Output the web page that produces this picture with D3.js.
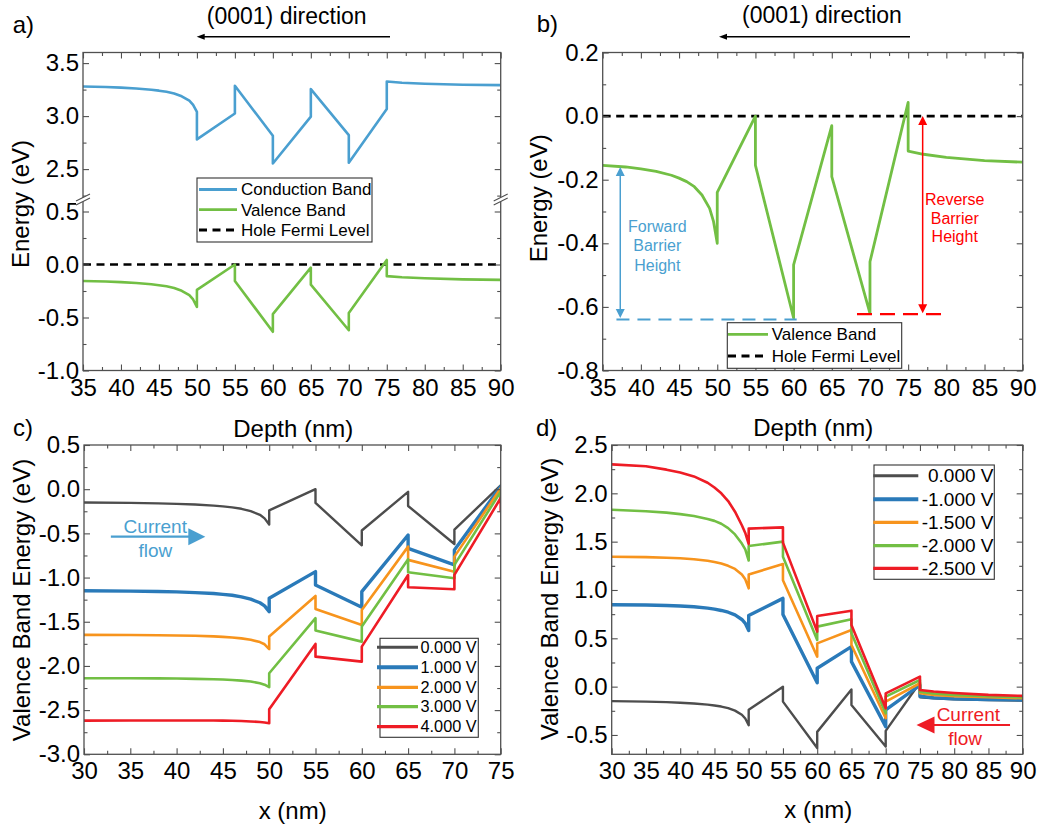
<!DOCTYPE html>
<html>
<head>
<meta charset="utf-8">
<script src="https://cdn.jsdelivr.net/npm/d3@7"></script>
<style>
  body { margin: 0; background: #ffffff; }
  svg { display: block; }
</style>
</head>
<body>
<script>
// ---------- data: depth grids (nm) ----------
const depthFull = [30,35,38,40,42,44,45,46,47,48,49,49.5,50,50,55,55,60,60,65,65,70,70,75,75,77,80,85,90];
const depthC    = [30,35,38,40,42,44,45,46,47,48,49,49.5,50,50,55,55,60,60,65,65,70,70,75,75];

// ---------- panels a/b: equilibrium band edges (eV) ----------
const valenceBand    = [-0.150,-0.155,-0.160,-0.166,-0.174,-0.186,-0.195,-0.206,-0.222,-0.248,-0.290,-0.330,-0.400,-0.240,0.000,-0.155,-0.635,-0.468,-0.030,-0.190,-0.620,-0.458,0.043,-0.110,-0.120,-0.130,-0.140,-0.145];
const conductionBand = [3.284,3.279,3.274,3.269,3.261,3.249,3.240,3.229,3.213,3.187,3.145,3.105,3.040,2.780,3.025,3.286,2.814,2.553,2.995,3.255,2.820,2.560,3.066,3.326,3.315,3.305,3.296,3.292];
const fermiDepth  = [35, 90];
const fermiEnergy = [0, 0];

// ---------- panel c: forward bias ----------
const biasLabelsC = ["0.000 V","1.000 V","2.000 V","3.000 V","4.000 V"];
const vbC0 = [-0.150,-0.155,-0.160,-0.166,-0.174,-0.186,-0.195,-0.206,-0.222,-0.248,-0.290,-0.330,-0.400,-0.240,0.000,-0.155,-0.635,-0.468,-0.030,-0.190,-0.620,-0.458,0.043,-0.110];
const vbC1 = [-1.150,-1.153,-1.157,-1.162,-1.170,-1.181,-1.190,-1.200,-1.218,-1.245,-1.285,-1.320,-1.386,-1.235,-0.933,-1.084,-1.336,-1.159,-0.518,-0.669,-0.857,-0.688,0.030,-0.060];
const vbC2 = [-1.649,-1.650,-1.652,-1.655,-1.659,-1.666,-1.671,-1.678,-1.688,-1.703,-1.730,-1.755,-1.810,-1.668,-1.208,-1.355,-1.536,-1.366,-0.650,-0.800,-0.933,-0.763,0.010,-0.100];
const vbC3 = [-2.139,-2.140,-2.141,-2.143,-2.146,-2.151,-2.154,-2.159,-2.166,-2.176,-2.195,-2.212,-2.241,-2.083,-1.460,-1.600,-1.725,-1.555,-0.793,-0.940,-1.008,-0.857,-0.028,-0.160];
const vbC4 = [-2.619,-2.618,-2.617,-2.617,-2.617,-2.618,-2.619,-2.621,-2.624,-2.628,-2.635,-2.640,-2.648,-2.490,-1.751,-1.895,-1.951,-1.782,-0.971,-1.110,-1.133,-0.970,-0.100,-0.254];

// ---------- panel d: reverse bias ----------
const biasLabelsD = ["0.000 V","-1.000 V","-1.500 V","-2.000 V","-2.500 V"];
const vbD0 = valenceBand;
const vbD1 = [0.848,0.845,0.840,0.835,0.826,0.812,0.802,0.788,0.770,0.742,0.695,0.655,0.580,0.735,0.913,0.747,0.040,0.190,0.414,0.259,-0.414,-0.240,0.015,-0.100,-0.115,-0.125,-0.133,-0.138];
const vbD2 = [1.344,1.340,1.334,1.328,1.318,1.302,1.290,1.273,1.250,1.218,1.160,1.110,1.017,1.160,1.269,1.100,0.310,0.448,0.586,0.431,-0.327,-0.155,0.035,-0.069,-0.085,-0.098,-0.110,-0.120];
const vbD3 = [1.830,1.815,1.800,1.785,1.765,1.735,1.715,1.685,1.640,1.575,1.480,1.420,1.305,1.455,1.500,1.344,0.483,0.621,0.697,0.552,-0.276,-0.103,0.069,-0.052,-0.070,-0.085,-0.100,-0.110];
const vbD4 = [2.300,2.280,2.245,2.215,2.175,2.110,2.060,2.000,1.920,1.810,1.670,1.590,1.475,1.635,1.648,1.490,0.569,0.731,0.786,0.638,-0.224,-0.069,0.103,-0.034,-0.050,-0.065,-0.085,-0.096];

// ---------- tick values ----------
const xTicksAB = [35,40,45,50,55,60,65,70,75,80,85,90];
const xTicksC  = [30,35,40,45,50,55,60,65,70,75];
const xTicksD  = [30,35,40,45,50,55,60,65,70,75,80,85,90];
const yTicksAUpper = [2.5,3.0,3.5];
const yTicksALower = [-1.0,-0.5,0.0,0.5];
const yTicksB = [-0.8,-0.6,-0.4,-0.2,0.0,0.2];
const yTicksC = [-3.0,-2.5,-2.0,-1.5,-1.0,-0.5,0.0,0.5];
const yTicksD = [-0.5,0.0,0.5,1.0,1.5,2.0,2.5];

// ---------- styling ----------
const FONT = "'Liberation Sans', Arial, Helvetica, sans-serif";
const FRAME = "#505050";
const TICK_FS = 24;
const C_CB = "#4a9fd0", C_GREEN = "#72bf44", C_GREY = "#4d4d4d",
      C_BLUE = "#2a7ab9", C_ORANGE = "#f7941d", C_RED = "#ee1c25";

const loc = d3.formatLocale({decimal: ".", thousands: ",", grouping: [3], currency: ["", ""], minus: "-"});
const f1 = loc.format(".1f");
const f0 = loc.format("d");

const svg = d3.select("body").append("svg")
  .attr("width", 1057).attr("height", 828)
  .style("font-family", FONT);

const defs = svg.append("defs");

function styleAx(sel) {
  sel.select(".domain").remove();
  sel.attr("font-family", null).attr("font-size", null);
  sel.selectAll(".tick line").attr("stroke", FRAME).attr("stroke-width", 1.1);
  sel.selectAll(".tick text").attr("fill", "#000")
     .style("font-size", TICK_FS + "px").style("font-family", FONT);
}

function ticks(g, orient, scale, pos, major, minor, fmt) {
  const mk = {bottom: d3.axisBottom, top: d3.axisTop, left: d3.axisLeft, right: d3.axisRight}[orient];
  const tr = (orient === "bottom" || orient === "top") ? `translate(0,${pos})` : `translate(${pos},0)`;
  g.append("g").attr("transform", tr)
    .call(mk(scale).tickValues(minor).tickFormat("").tickSizeInner(-3.5).tickSizeOuter(0))
    .call(styleAx);
  g.append("g").attr("transform", tr)
    .call(mk(scale).tickValues(major).tickFormat(fmt || "").tickSizeInner(-6).tickSizeOuter(0)
      .tickPadding(orient === "bottom" ? 8 : 4))
    .call(styleAx);
}

function frame(g, P) {
  g.append("rect").attr("x", P.l).attr("y", P.t).attr("width", P.r - P.l).attr("height", P.b - P.t)
    .attr("fill", "none").attr("stroke", FRAME).attr("stroke-width", 1.3);
}

function clip(id, P) {
  defs.append("clipPath").attr("id", id).append("rect")
    .attr("x", P.l).attr("y", P.t - 2).attr("width", P.r - P.l).attr("height", P.b - P.t + 4);
  return `url(#${id})`;
}

function curve(g, x, y, xs, ys, color, width, dash) {
  const line = d3.line().x(d => x(d[0])).y(d => y(d[1]));
  const p = g.append("path").datum(d3.zip(xs, ys))
    .attr("d", line).attr("fill", "none").attr("stroke", color)
    .attr("stroke-width", width).attr("stroke-linejoin", "round").attr("stroke-linecap", "butt");
  if (dash) p.attr("stroke-dasharray", dash);
  return p;
}

function label(x, y, txt, size, opts = {}) {
  const t = svg.append("text").attr("x", x).attr("y", y).attr("dy", "0.35em")
    .attr("text-anchor", opts.anchor || "middle").attr("fill", opts.fill || "#000")
    .style("font-size", size + "px").text(txt);
  if (opts.rotate) t.attr("transform", `rotate(-90,${x},${y})`);
  return t;
}

function arrowHead(g, tipX, tipY, dir, len, half, color) {
  // dir: +1 points right, -1 points left, "up"/"down" for vertical
  let d;
  if (dir === 1 || dir === -1) {
    d = `M${tipX},${tipY} L${tipX - dir * len},${tipY - half} L${tipX - dir * len},${tipY + half} Z`;
  } else {
    const s = dir === "up" ? 1 : -1;
    d = `M${tipX},${tipY} L${tipX - half},${tipY + s * len} L${tipX + half},${tipY + s * len} Z`;
  }
  g.append("path").attr("d", d).attr("fill", color);
}

function legendBox(g, box, rows, opts) {
  g.append("rect").attr("x", box.x).attr("y", box.y).attr("width", box.w).attr("height", box.h)
    .attr("fill", "#fff").attr("stroke", "#333").attr("stroke-width", 1.1);
  rows.forEach((r, i) => {
    const yy = opts.rowY[i];
    const ln = g.append("line").attr("x1", opts.lx1).attr("x2", opts.lx2).attr("y1", yy).attr("y2", yy)
      .attr("stroke", r.color).attr("stroke-width", r.width);
    if (r.dash) ln.attr("stroke-dasharray", r.dash);
    g.append("text").attr("x", opts.tx).attr("y", yy).attr("dy", "0.35em")
      .attr("text-anchor", opts.anchor || "start").style("font-size", opts.fs + "px")
      .attr("fill", "#000").text(r.text);
  });
}

// ================= panel a =================
const A = {l: 83, r: 500.7, t: 52.5, b: 370.5, brk: 200.9};
const xA = d3.scaleLinear().domain([35, 90]).range([A.l, A.r]);
const yAU = d3.scaleLinear().domain([2.2, 3.6]).range([A.brk, A.t]);
const yAL = d3.scaleLinear().domain([-1.0, 0.6]).range([A.b, A.brk]);
const gA = svg.append("g");
const plotA = gA.append("g").attr("clip-path", clip("clipA", A));
curve(plotA, xA, yAL, fermiDepth, fermiEnergy, "#000", 2.6, "8,5.5");
curve(plotA, xA, yAU, depthFull, conductionBand, C_CB, 2.6);
curve(plotA, xA, yAL, depthFull, valenceBand, C_GREEN, 2.6);
frame(gA, A);
ticks(gA, "bottom", xA, A.b, xTicksAB, d3.range(37.5, 90, 5), f0);
ticks(gA, "top", xA, A.t, xTicksAB, d3.range(37.5, 90, 5));
ticks(gA, "left", yAU, A.l, yTicksAUpper, [2.25, 2.75, 3.25], f1);
ticks(gA, "left", yAL, A.l, yTicksALower, [-0.75, -0.25, 0.25], f1);
ticks(gA, "right", yAU, A.r, yTicksAUpper, [2.25, 2.75, 3.25]);
ticks(gA, "right", yAL, A.r, yTicksALower, [-0.75, -0.25, 0.25]);
// axis break marks
[A.l, A.r].forEach(cx => {
  const cy = A.brk - 1;
  gA.append("path").attr("d", `M${cx - 7},${cy + 1} L${cx + 7},${cy - 6} L${cx + 7},${cy - 2} L${cx - 7},${cy + 5} Z`)
    .attr("fill", "#fff");
  gA.append("path").attr("d", `M${cx - 7},${cy + 1} L${cx + 7},${cy - 6} M${cx - 7},${cy + 5} L${cx + 7},${cy - 2}`)
    .attr("stroke", FRAME).attr("stroke-width", 1.1).attr("fill", "none");
});
legendBox(gA, {x: 197, y: 178, w: 175, h: 64}, [
  {text: "Conduction Band", color: C_CB, width: 2.8},
  {text: "Valence Band", color: C_GREEN, width: 2.8},
  {text: "Hole Fermi Level", color: "#000", width: 3, dash: "8,5.5"}
], {rowY: [189.5, 209.7, 230], lx1: 199, lx2: 237, tx: 241, fs: 17});

// ================= panel b =================
const B = {l: 602.7, r: 1022.7, t: 52.5, b: 370.5};
const xB = d3.scaleLinear().domain([35, 90]).range([B.l, B.r]);
const yB = d3.scaleLinear().domain([-0.8, 0.2]).range([B.b, B.t]);
const gB = svg.append("g");
const plotB = gB.append("g").attr("clip-path", clip("clipB", B));
curve(plotB, xB, yB, fermiDepth, fermiEnergy, "#000", 2.6, "8,5.5");
curve(plotB, xB, yB, depthFull, valenceBand, C_GREEN, 2.8);
frame(gB, B);
ticks(gB, "bottom", xB, B.b, xTicksAB, d3.range(37.5, 90, 5), f0);
ticks(gB, "top", xB, B.t, xTicksAB, d3.range(37.5, 90, 5));
ticks(gB, "left", yB, B.l, yTicksB, [-0.7, -0.5, -0.3, -0.1, 0.1], f1);
ticks(gB, "right", yB, B.r, yTicksB, [-0.7, -0.5, -0.3, -0.1, 0.1]);
// forward barrier height
const fbX = xB(37.3);
gB.append("line").attr("x1", fbX).attr("x2", fbX).attr("y1", yB(-0.16) + 8).attr("y2", yB(-0.635) - 8)
  .attr("stroke", C_CB).attr("stroke-width", 1.5);
arrowHead(gB, fbX, yB(-0.16), "up", 9, 4.5, C_CB);
arrowHead(gB, fbX, yB(-0.635), "down", 9, 4.5, C_CB);
gB.append("line").attr("x1", xB(36.8)).attr("x2", xB(60.4)).attr("y1", yB(-0.64)).attr("y2", yB(-0.64))
  .attr("stroke", C_CB).attr("stroke-width", 2).attr("stroke-dasharray", "13,8");
["Forward", "Barrier", "Height"].forEach((s, i) =>
  gB.append("text").attr("x", xB(42.15)).attr("y", yB([-0.347, -0.408, -0.468][i])).attr("dy", "0.35em")
    .attr("text-anchor", "middle").attr("fill", C_CB).style("font-size", "16px").text(s));
// reverse barrier height
const rbX = xB(76.9);
gB.append("line").attr("x1", rbX).attr("x2", rbX).attr("y1", yB(0) + 8).attr("y2", yB(-0.62) - 8)
  .attr("stroke", "#ff0000").attr("stroke-width", 1.5);
arrowHead(gB, rbX, yB(0), "up", 9, 4.5, "#ff0000");
arrowHead(gB, rbX, yB(-0.62), "down", 9, 4.5, "#ff0000");
gB.append("line").attr("x1", xB(68.3)).attr("x2", xB(79.8)).attr("y1", yB(-0.623)).attr("y2", yB(-0.623))
  .attr("stroke", "#ff0000").attr("stroke-width", 2.2).attr("stroke-dasharray", "15,8");
["Reverse", "Barrier", "Height"].forEach((s, i) =>
  gB.append("text").attr("x", xB(81.1)).attr("y", yB([-0.262, -0.322, -0.378][i])).attr("dy", "0.35em")
    .attr("text-anchor", "middle").attr("fill", "#ff0000").style("font-size", "16px").text(s));
legendBox(gB, {x: 727.3, y: 322.7, w: 174.4, h: 45.6}, [
  {text: "Valence Band", color: C_GREEN, width: 2.8},
  {text: "Hole Fermi Level", color: "#000", width: 3, dash: "8,5.5"}
], {rowY: [334.3, 356], lx1: 728, lx2: 768, tx: 771.7, fs: 17});

// ================= panel c =================
const C = {l: 84, r: 500.7, t: 445, b: 754.3};
const xC = d3.scaleLinear().domain([30, 75]).range([C.l, C.r]);
const yC = d3.scaleLinear().domain([-3.0, 0.5]).range([C.b, C.t]);
const gC = svg.append("g");
const plotC = gC.append("g").attr("clip-path", clip("clipC", C));
const seriesC = [vbC0, vbC1, vbC2, vbC3, vbC4];
const colorsV = [C_GREY, C_BLUE, C_ORANGE, C_GREEN, C_RED];
const widthsV = [2.4, 3.4, 2.6, 2.6, 2.6];
seriesC.forEach((s, i) => curve(plotC, xC, yC, depthC, s, colorsV[i], widthsV[i]));
frame(gC, C);
ticks(gC, "bottom", xC, C.b, xTicksC, d3.range(32.5, 75, 5), f0);
ticks(gC, "top", xC, C.t, xTicksC, d3.range(32.5, 75, 5));
ticks(gC, "left", yC, C.l, yTicksC, d3.range(-2.75, 0.5, 0.5), f1);
ticks(gC, "right", yC, C.r, yTicksC, d3.range(-2.75, 0.5, 0.5));
// current flow (forward)
gC.append("line").attr("x1", xC(32.9)).attr("x2", xC(43.1) - 16).attr("y1", yC(-0.537)).attr("y2", yC(-0.537))
  .attr("stroke", C_CB).attr("stroke-width", 2.2);
arrowHead(gC, xC(43.1), yC(-0.537), 1, 17, 8.5, C_CB);
gC.append("text").attr("x", xC(37.7)).attr("y", yC(-0.42)).attr("dy", "0.35em").attr("text-anchor", "middle")
  .attr("fill", C_CB).style("font-size", "19px").text("Current");
gC.append("text").attr("x", xC(37.7)).attr("y", yC(-0.69)).attr("dy", "0.35em").attr("text-anchor", "middle")
  .attr("fill", C_CB).style("font-size", "19px").text("flow");
legendBox(gC, {x: 380, y: 638.3, w: 98.3, h: 99}, biasLabelsC.map((t, i) => ({text: t, color: colorsV[i], width: widthsV[i] + 0.6})),
  {rowY: [647.3, 667.3, 687.3, 706.7, 726.7], lx1: 377, lx2: 418, tx: 420.5, fs: 16.3});

// ================= panel d =================
const D = {l: 611.7, r: 1022.7, t: 445, b: 754.3};
const xD = d3.scaleLinear().domain([30, 90]).range([D.l, D.r]);
const yD = d3.scaleLinear().domain([-0.7, 2.5]).range([D.b, D.t]);
const gD = svg.append("g");
const plotD = gD.append("g").attr("clip-path", clip("clipD", D));
const seriesD = [vbD0, vbD1, vbD2, vbD3, vbD4];
seriesD.forEach((s, i) => curve(plotD, xD, yD, depthFull, s, colorsV[i], widthsV[i]));
frame(gD, D);
ticks(gD, "bottom", xD, D.b, xTicksD, d3.range(32.5, 90, 5), f0);
ticks(gD, "top", xD, D.t, xTicksD, d3.range(32.5, 90, 5));
ticks(gD, "left", yD, D.l, yTicksD, d3.range(-0.25, 2.5, 0.5), f1);
ticks(gD, "right", yD, D.r, yTicksD, d3.range(-0.25, 2.5, 0.5));
// current flow (reverse)
gD.append("line").attr("x1", xD(88.15)).attr("x2", xD(74.5) + 16).attr("y1", yD(-0.397)).attr("y2", yD(-0.397))
  .attr("stroke", C_RED).attr("stroke-width", 2.2);
arrowHead(gD, xD(74.5), yD(-0.397), -1, 18, 8.5, C_RED);
gD.append("text").attr("x", xD(82.06)).attr("y", yD(-0.285)).attr("dy", "0.35em").attr("text-anchor", "middle")
  .attr("fill", C_RED).style("font-size", "19px").text("Current");
gD.append("text").attr("x", xD(81.6)).attr("y", yD(-0.534)).attr("dy", "0.35em").attr("text-anchor", "middle")
  .attr("fill", C_RED).style("font-size", "19px").text("flow");
legendBox(gD, {x: 874, y: 465, w: 120.3, h: 114.3}, biasLabelsD.map((t, i) => ({text: t, color: colorsV[i], width: widthsV[i] + 0.6})),
  {rowY: [475.7, 499.3, 522.3, 545.7, 568.3], lx1: 873.3, lx2: 918.3, tx: 993.5, fs: 19, anchor: "end"});

// ================= titles and annotations =================
label(12.7, 25, "a)", 24, {anchor: "start"});
label(536.7, 24, "b)", 24, {anchor: "start"});
label(13, 428, "c)", 24, {anchor: "start"});
label(536, 428, "d)", 24, {anchor: "start"});

label(286.7, 16, "(0001) direction", 23);
label(822, 15, "(0001) direction", 23);
[[390, 196.7], [910, 719]].forEach(([x1, x2]) => {
  svg.append("line").attr("x1", x1).attr("x2", x2 + 7).attr("y1", 36.7).attr("y2", 36.7)
    .attr("stroke", "#000").attr("stroke-width", 1.4);
  arrowHead(svg, x2, 36.7, -1, 8, 3, "#000");
});

label(20.7, 204, "Energy (eV)", 24, {rotate: true});
label(538.3, 198.3, "Energy (eV)", 24, {rotate: true});
label(21.7, 600, "Valence Band Energy (eV)", 24, {rotate: true});
label(550, 599, "Valence Band Energy (eV)", 24, {rotate: true});

label(293.3, 428.3, "Depth (nm)", 24);
label(813.3, 428, "Depth (nm)", 24);
label(292.7, 810.7, "x (nm)", 24);
label(818.3, 810, "x (nm)", 24);
</script>
</body>
</html>
